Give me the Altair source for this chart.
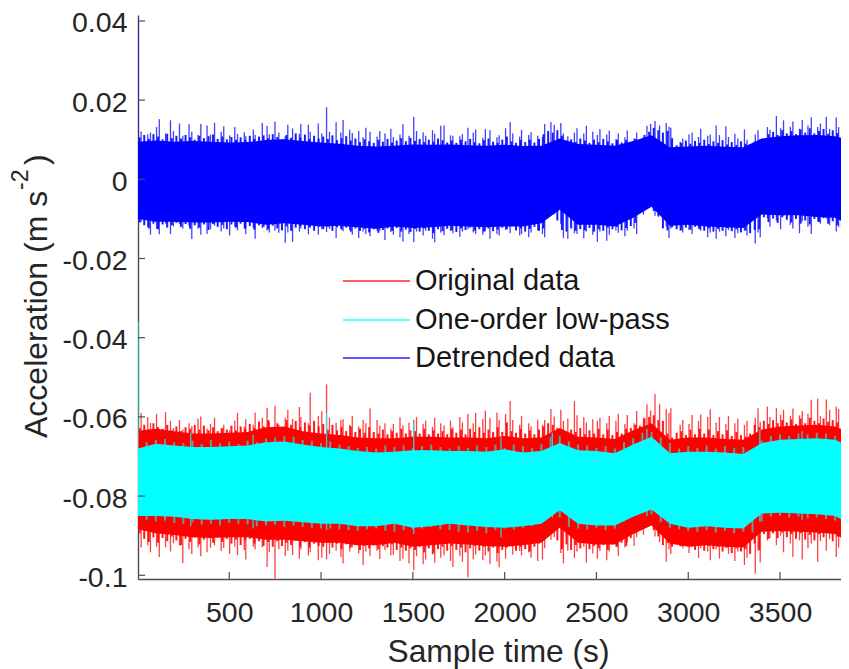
import altair as alt
import pandas as pd

spike_times = [3,
 20, 56, 71, 104, 119, 153, 180, 196, 229, 247, 281, 296, 330, 345, 379, 398, 420, 456, 470, 502,
 530, 545, 582, 590, 631, 641, 680, 706, 718, 749, 770, 805, 819, 845, 882, 890, 931, 941, 985, 1004,
 1030, 1046, 1082, 1108, 1120, 1156, 1170, 1205, 1229, 1244, 1267, 1305, 1320, 1348, 1380, 1394, 1430, 1446, 1479, 1505,
 1520, 1556, 1570, 1607, 1619, 1652, 1670, 1705, 1718, 1756, 1770, 1800, 1829, 1842, 1881, 1895, 1920, 1958, 1970, 2005,
 2030, 2044, 2082, 2092, 2131, 2144, 2180, 2206, 2218, 2252, 2270, 2306, 2320, 2344, 2380, 2394, 2431, 2445, 2480, 2505,
 2519, 2556, 2570, 2606, 2619, 2655, 2668, 2705, 2719, 2756, 2775, 2795, 2819, 2844, 2880, 2895, 2905, 2956, 2970, 3004,
 3021, 3056, 3068, 3106, 3120, 3152, 3170, 3205, 3219, 3254, 3270, 3306, 3320, 3365, 3380, 3392, 3431, 3445, 3480, 3503,
 3519, 3556, 3570, 3606, 3621, 3652, 3670, 3705, 3720, 3752, 3770, 3806, 3819, 3843, 3875]

blue_top = [41.0,
 12.1, 11.4, 11.8, 13.2, 15.2, 11.6, 14.9, 12.2, 14.1, 11.0, 13.9, 12.0, 11.2, 14.0, 13.6, 11.3, 14.3, 12.0, 13.4, 11.1,
 13.2, 11.5, 11.9, 10.9, 12.6, 11.2, 14.2, 13.5, 11.4, 14.6, 11.8, 10.9, 13.8, 12.9, 11.5, 14.0, 13.8, 12.0, 14.1, 11.6,
 18.2, 12.0, 14.4, 11.8, 15.0, 12.5, 11.7, 12.2, 10.6, 13.0, 12.0, 10.8, 12.2, 11.6, 12.8, 10.7, 11.3, 13.9, 11.0, 15.8,
 12.2, 11.9, 11.0, 12.4, 11.5, 13.5, 13.6, 11.1, 11.0, 10.9, 11.4, 13.0, 11.8, 12.6, 10.5, 12.7, 12.4, 10.6, 11.1, 12.9,
 14.5, 11.6, 10.8, 12.5, 11.2, 11.9, 11.0, 10.7, 14.0, 14.5, 13.8, 14.2, 11.6, 10.9, 11.8, 12.9, 11.6, 13.5, 12.0, 11.2,
 12.7, 11.3, 12.3, 10.1, 11.6, 10.6, 12.3, 10.4, 11.8, 10.7, 13.5, 14.0, 14.7, 13.6, 14.2, 13.3, 13.0, 9.5, 10.3, 11.4,
 11.8, 10.7, 12.8, 11.0, 11.3, 13.6, 11.2, 13.4, 10.7, 11.5, 10.3, 12.6, 10.0, 11.3, 12.4, 10.2, 13.2, 12.5, 16.0, 12.9,
 14.9, 13.3, 14.6, 12.8, 15.0, 13.6, 15.7, 13.2, 14.1, 15.8, 12.7, 15.6, 13.2, 12.5, 11.6]

blue_bot = [-9.5,
 -10.8, -12.0, -14.0, -12.5, -13.9, -11.2, -13.8, -11.9, -11.3, -12.4, -11.7, -15.1, -12.5, -14.0, -13.8, -12.6, -11.7, -13.2, -12.4, -14.2,
 -12.0, -12.9, -12.4, -13.9, -12.2, -15.0, -12.3, -12.9, -13.4, -13.0, -13.5, -16.0, -13.4, -15.8, -13.2, -12.4, -13.9, -12.2, -14.0, -12.6,
 -13.3, -12.5, -14.8, -12.4, -13.1, -12.8, -14.0, -14.8, -13.2, -13.8, -14.4, -12.9, -13.0, -15.3, -13.3, -14.0, -14.6, -15.7, -13.8, -15.9,
 -13.2, -14.2, -13.0, -15.0, -15.9, -13.4, -14.1, -13.0, -13.6, -14.5, -13.2, -12.6, -13.4, -13.8, -14.0, -13.1, -15.0, -13.8, -14.2, -12.8,
 -13.6, -9.8, -14.2, -13.8, -14.6, -13.4, -12.9, -13.8, -14.6, -9.0, -8.8, -11.2, -14.8, -15.0, -13.6, -13.8, -14.9, -13.2, -14.0, -15.8,
 -13.2, -15.5, -14.0, -12.9, -13.5, -14.4, -13.0, -12.4, -13.8, -8.9, -7.0, -6.3, -9.2, -8.6, -11.9, -14.8, -12.4, -13.0, -13.4, -12.8,
 -13.8, -12.4, -13.0, -14.6, -13.4, -15.0, -13.2, -14.4, -12.8, -14.8, -13.6, -13.0, -14.2, -16.2, -13.4, -14.6, -9.8, -12.0, -10.4, -12.6,
 -9.2, -11.5, -12.4, -13.6, -10.6, -12.0, -13.8, -10.6, -11.2, -9.9, -11.6, -13.2, -12.0, -14.6, -13.0]

red_top = [-62.0,
 -59.0, -60.0, -61.5, -59.3, -63.0, -58.8, -61.0, -62.8, -60.8, -63.2, -61.6, -62.4, -60.4, -59.9, -63.0, -61.8, -60.2, -63.0, -62.0, -63.4,
 -60.9, -59.0, -62.4, -60.6, -62.0, -58.9, -60.2, -57.7, -61.2, -57.2, -62.0, -60.2, -58.2, -60.5, -57.5, -60.0, -61.6, -53.9, -59.8, -58.6,
 -51.8, -60.2, -61.5, -60.8, -60.6, -62.0, -59.8, -62.4, -60.8, -61.6, -57.9, -60.8, -62.2, -61.6, -63.0, -61.8, -60.1, -62.2, -61.5, -60.7,
 -60.0, -61.8, -60.9, -62.5, -60.2, -61.6, -62.2, -60.9, -62.6, -60.0, -61.4, -59.2, -61.6, -59.0, -60.5, -58.4, -60.2, -58.9, -60.7, -59.2,
 -56.0, -60.8, -62.0, -59.8, -61.6, -62.4, -60.7, -62.0, -60.8, -58.0, -59.9, -58.2, -61.0, -60.4, -56.0, -59.6, -60.1, -61.4, -60.6, -61.0,
 -60.2, -61.6, -59.8, -61.0, -59.2, -61.8, -59.5, -61.6, -58.5, -60.2, -56.8, -58.4, -54.2, -56.8, -58.0, -59.0, -57.8, -62.0, -60.8, -61.8,
 -59.5, -61.0, -59.4, -60.0, -58.1, -61.4, -60.0, -61.8, -59.8, -61.6, -60.4, -62.0, -61.0, -60.2, -57.8, -61.2, -57.4, -60.0, -57.8, -59.5,
 -58.2, -59.8, -57.9, -59.6, -58.5, -59.2, -55.7, -55.4, -59.8, -55.6, -58.2, -57.4, -58.0, -59.6, -60.8]

red_bot = [-88.0,
 -93.0, -92.5, -94.2, -92.8, -95.4, -92.9, -94.0, -91.9, -92.5, -96.9, -93.4, -94.6, -93.0, -95.2, -94.2, -93.0, -92.4, -93.9, -93.1, -94.6,
 -92.8, -94.9, -93.6, -96.0, -92.8, -93.4, -92.9, -97.9, -94.2, -100.8, -93.4, -95.2, -93.8, -94.9, -95.8, -93.4, -95.0, -94.2, -96.2, -95.6,
 -96.0, -94.6, -93.8, -95.4, -97.0, -94.0, -92.9, -94.5, -97.4, -94.0, -95.2, -93.8, -95.9, -93.6, -95.0, -94.8, -96.4, -95.8, -97.0, -98.7,
 -95.2, -97.2, -96.0, -94.8, -96.8, -95.6, -95.0, -96.4, -97.9, -95.2, -96.6, -100.5, -96.0, -94.8, -96.2, -95.0, -97.2, -96.5, -98.0, -95.8,
 -91.8, -94.8, -93.9, -95.0, -94.2, -95.6, -96.4, -96.0, -93.2, -91.0, -90.4, -94.4, -97.0, -93.8, -95.6, -94.0, -92.8, -96.8, -94.5, -95.8,
 -93.9, -96.2, -94.0, -92.8, -95.2, -93.0, -91.8, -92.6, -90.4, -89.8, -87.5, -87.2, -90.2, -91.6, -96.6, -93.4, -94.6, -92.8, -93.2, -94.4,
 -92.9, -95.6, -93.2, -94.0, -96.2, -93.4, -95.8, -93.2, -94.6, -96.4, -94.0, -97.4, -95.6, -99.6, -93.8, -96.8, -91.2, -90.6, -92.4, -90.0,
 -94.2, -92.0, -95.4, -91.2, -96.0, -93.2, -92.0, -96.6, -91.4, -93.8, -90.8, -95.4, -93.0, -92.6, -96.0]

# Dense, lower fringe between the tall spikes.
fringe_times = list(range(12, 3876, 25))

blue_fringe_top = [
 10.6, 11.2, 10.2, 11.4, 10.8, 10.1, 11.5, 10.4, 11.0, 10.3, 11.2, 10.6, 10.0, 11.0, 10.4, 10.9, 11.3, 10.2, 10.8, 10.1,
 10.7, 10.0, 10.6, 9.9, 11.0, 10.2, 10.8, 11.1, 10.4, 11.4, 10.7, 10.1, 11.2, 10.5, 11.6, 10.6, 11.3, 10.2, 11.0, 10.3,
 10.8, 10.2, 11.1, 9.9, 10.4, 10.9, 9.8, 10.3, 9.4, 10.1, 9.6, 9.2, 10.0, 9.5, 10.2, 9.3, 9.8, 10.4, 9.6, 10.5,
 9.7, 10.2, 9.4, 10.0, 9.5, 10.3, 9.9, 9.3, 9.8, 9.2, 10.0, 9.6, 10.2, 9.4, 9.1, 9.9, 10.3, 9.5, 9.2, 10.0,
 10.8, 9.6, 9.2, 9.9, 9.4, 10.0, 9.3, 10.2, 11.4, 12.2, 11.8, 12.4, 11.0, 9.7, 10.1, 9.4, 10.3, 9.8, 9.2, 10.0,
 9.4, 10.2, 9.6, 9.1, 10.0, 9.3, 9.9, 9.2, 10.2, 9.8, 11.2, 12.0, 13.0, 12.4, 11.8, 12.2, 10.4, 8.6, 9.2, 9.8,
 9.0, 9.7, 9.2, 10.0, 8.9, 9.6, 9.2, 9.9, 8.8, 9.4, 8.7, 9.6, 9.0, 8.9, 9.5, 9.0, 10.2, 11.4, 12.0, 11.2,
 12.4, 11.6, 12.2, 11.4, 12.6, 11.8, 12.9, 11.6, 12.2, 12.7, 11.5, 12.4, 11.7, 11.0, 10.4]

blue_fringe_bot = [
 -10.9, -11.6, -12.4, -11.2, -12.6, -11.4, -12.2, -11.6, -11.0, -12.0, -11.3, -12.5, -11.6, -12.2, -11.4, -12.8, -11.3, -12.0, -11.5, -12.6,
 -11.4, -12.2, -11.2, -12.4, -11.8, -12.7, -11.6, -12.0, -12.6, -11.7, -12.4, -12.9, -11.9, -13.0, -12.2, -11.8, -12.6, -12.1, -13.0, -12.0,
 -12.6, -12.0, -13.0, -12.1, -12.7, -12.2, -13.2, -12.4, -13.0, -12.5, -13.4, -12.6, -13.5, -12.8, -12.4, -13.0, -12.3, -13.2, -12.7, -13.3,
 -12.5, -13.2, -12.4, -13.0, -13.6, -12.6, -13.1, -12.5, -12.9, -13.3, -12.4, -12.8, -12.2, -13.0, -12.6, -13.2, -12.4, -13.1, -12.7, -12.2,
 -12.6, -9.2, -12.9, -12.4, -13.2, -12.5, -12.0, -13.0, -12.4, -8.4, -8.6, -10.4, -12.8, -13.2, -12.4, -13.0, -12.6, -12.9, -12.3, -13.2,
 -12.6, -13.0, -12.2, -12.6, -12.0, -12.9, -12.3, -11.8, -11.0, -8.2, -7.2, -6.9, -8.0, -9.4, -12.4, -12.9, -12.1, -12.6, -12.9, -12.2,
 -12.7, -12.0, -12.6, -13.0, -12.4, -13.2, -12.5, -13.0, -12.3, -13.1, -12.6, -13.4, -12.9, -13.6, -12.8, -12.6, -9.6, -10.8, -9.9, -11.0,
 -9.6, -10.2, -10.9, -10.0, -11.2, -10.4, -11.4, -10.0, -10.8, -9.8, -11.2, -10.6, -11.6, -12.4, -12.2]

red_fringe_top = [
 -62.8, -62.0, -63.2, -61.6, -62.6, -63.0, -62.0, -63.4, -62.4, -63.6, -62.6, -63.0, -62.0, -63.2, -62.2, -63.4, -62.6, -63.6, -62.8, -63.2,
 -62.2, -63.4, -62.4, -63.0, -61.8, -62.8, -61.2, -62.4, -60.8, -62.6, -61.6, -62.8, -60.8, -62.0, -61.0, -62.6, -61.4, -62.2, -61.0, -62.4,
 -61.8, -63.2, -62.0, -63.4, -62.6, -63.6, -62.4, -63.8, -63.0, -64.0, -62.6, -63.8, -64.2, -63.2, -64.4, -63.6, -64.0, -63.0, -64.2, -63.4,
 -63.6, -64.2, -63.0, -64.4, -63.4, -64.2, -63.6, -64.4, -63.0, -64.0, -63.2, -64.4, -63.0, -63.8, -62.6, -64.0, -63.2, -63.8, -62.6, -63.8,
 -61.4, -63.6, -64.0, -63.0, -64.2, -63.4, -64.4, -63.2, -62.4, -61.6, -62.0, -62.8, -63.6, -64.0, -63.2, -63.8, -62.8, -64.4, -63.4, -64.2,
 -63.0, -64.4, -63.2, -64.6, -63.8, -64.2, -63.0, -62.8, -62.0, -62.2, -60.4, -60.0, -59.6, -60.8, -61.0, -64.2, -65.2, -64.0, -63.6, -64.6,
 -63.2, -64.4, -63.0, -64.2, -63.2, -64.6, -63.6, -64.4, -63.4, -64.8, -63.8, -64.6, -65.0, -64.2, -62.0, -62.6, -61.0, -61.8, -60.8, -61.6,
 -60.8, -61.4, -60.6, -61.8, -60.4, -61.6, -60.2, -61.0, -61.6, -60.4, -61.2, -60.8, -61.4, -62.4, -63.2]

red_fringe_bot = [
 -89.4, -90.8, -91.6, -90.4, -91.8, -90.6, -91.4, -90.2, -91.2, -92.4, -90.8, -91.6, -90.4, -92.2, -91.0, -90.6, -91.8, -90.4, -91.6, -90.8,
 -92.0, -91.0, -92.4, -91.2, -90.8, -92.0, -91.4, -92.6, -91.6, -92.8, -91.4, -92.6, -91.8, -92.4, -91.2, -92.8, -91.6, -93.0, -92.0, -92.6,
 -92.8, -91.8, -93.0, -92.0, -93.4, -92.2, -93.0, -92.4, -93.6, -92.6, -93.2, -92.4, -93.4, -92.6, -93.0, -92.2, -93.6, -93.0, -93.8, -93.2,
 -93.6, -92.8, -94.2, -93.2, -94.4, -93.4, -92.8, -93.8, -92.6, -93.6, -93.0, -94.2, -93.2, -92.6, -93.8, -92.8, -94.0, -93.0, -94.4, -93.6,
 -93.0, -92.2, -93.8, -92.8, -93.4, -94.0, -92.8, -92.0, -90.2, -88.4, -88.8, -91.2, -93.4, -92.2, -93.6, -92.4, -93.2, -91.8, -93.4, -92.6,
 -93.2, -92.4, -93.6, -92.2, -92.8, -91.8, -92.6, -90.6, -89.4, -88.4, -87.4, -86.8, -88.6, -90.2, -92.4, -91.8, -92.8, -91.8, -92.6, -91.8,
 -92.6, -93.6, -92.4, -93.8, -92.6, -93.4, -92.8, -94.0, -93.0, -94.4, -93.2, -94.0, -93.4, -94.6, -92.0, -93.6, -89.6, -90.8, -89.4, -90.6,
 -89.2, -90.4, -89.6, -90.8, -89.4, -91.0, -89.8, -91.2, -89.6, -90.4, -89.2, -91.4, -90.2, -92.0, -92.8]

cyan_fringe_times = list(range(50, 3851, 50))
cyan_fringe_top = [
 -66.4, -65.8, -65.6, -66.4, -66.6, -66.0, -66.8, -65.8, -66.6, -66.2,
 -66.8, -66.0, -66.4, -65.4, -65.2, -64.8, -65.0, -65.8, -66.0, -66.6,
 -66.2, -67.0, -67.4, -67.8, -67.6, -68.0, -67.2, -67.6, -67.2, -67.8,
 -67.4, -67.0, -67.6, -68.0, -67.4, -67.8, -67.2, -67.6, -67.0, -67.8,
 -67.0, -67.4, -67.8, -66.8, -65.0, -64.8, -66.2, -67.0, -67.2, -67.8,
 -67.4, -68.0, -66.4, -65.4, -64.0, -63.8, -65.2, -66.6, -68.0, -67.4,
 -67.8, -67.2, -68.0, -67.4, -67.8, -67.6, -68.2, -66.0, -64.8, -64.4,
 -64.8, -64.2, -64.4, -64.0, -64.2, -64.8, -65.0]
cyan_fringe_bot = [
 -86.0, -86.4, -86.2, -86.8, -87.0, -86.6, -87.2, -87.0, -87.4, -86.8,
 -87.0, -87.2, -87.6, -87.4, -87.2, -87.8, -87.4, -87.8, -88.0, -88.2,
 -88.2, -88.4, -88.6, -88.8, -88.4, -88.2, -88.8, -89.0, -88.6, -88.4,
 -88.2, -87.8, -88.4, -88.6, -89.0, -89.2, -88.8, -89.4, -88.6, -88.2,
 -88.4, -88.0, -87.6, -85.6, -84.4, -85.4, -87.8, -88.2, -88.4, -88.0,
 -88.6, -88.2, -86.4, -85.0, -84.2, -84.6, -86.6, -88.0, -88.4, -88.8,
 -89.0, -88.6, -89.2, -88.8, -89.4, -89.0, -89.2, -86.4, -85.2, -85.0,
 -85.4, -85.2, -85.6, -85.4, -85.8, -86.2, -86.6]

core_times = [3] + list(range(100, 3801, 100)) + [3876]

blue_core_top = [9.5, 9.8, 9.5, 9.7, 9.5, 9.3, 9.4, 9.9, 10.1, 9.7, 9.3, 9.0, 8.5, 8.3, 8.5, 8.8, 8.7, 8.8, 8.6, 8.5,
 8.7, 8.4, 8.5, 10.3, 8.9, 8.7, 8.5, 9.7, 11.1, 8.1, 8.3, 8.5, 8.2, 8.1, 10.3, 10.9, 11.1, 11.2, 10.9, 9.9]
blue_core_bot = [-10.0, -10.7, -10.7, -10.9, -10.9, -10.7, -10.8, -11.5, -11.1, -11.5, -11.9, -11.7, -12.1, -12.5, -11.9, -12.3, -12.1, -11.7, -11.9, -12.1,
 -11.9, -11.9, -11.1, -7.7, -11.5, -11.5, -11.9, -9.7, -6.9, -11.7, -11.5, -11.9, -12.1, -12.3, -8.9, -9.1, -9.1, -9.5, -9.7, -11.5]

cyan_core_top = [-68.0, -66.8, -67.2, -67.6, -67.6, -67.4, -67.2, -66.4, -66.2, -67.0, -67.6, -68.0, -68.6, -69.0, -68.8, -68.4, -68.4, -68.6, -68.6, -68.8,
 -68.2, -69.0, -68.6, -66.6, -68.4, -68.6, -69.2, -67.0, -65.0, -69.2, -68.8, -68.8, -69.0, -69.4, -66.6, -65.8, -65.6, -65.4, -65.8, -67.4]
cyan_core_bot = [-85.0, -85.0, -85.2, -85.8, -86.0, -85.8, -85.8, -86.4, -86.2, -86.6, -87.0, -87.0, -87.6, -87.6, -87.0, -88.0, -87.6, -87.0, -87.4, -87.8,
 -88.0, -87.6, -87.0, -83.6, -87.0, -87.4, -87.4, -85.2, -83.4, -87.0, -88.0, -87.6, -88.0, -88.2, -84.4, -84.2, -84.4, -84.6, -85.0, -87.0]

red_core_top = [-63.5, -63.0, -63.6, -64.2, -64.2, -64.0, -63.8, -62.6, -62.4, -63.6, -64.2, -64.6, -65.2, -65.4, -65.4, -65.0, -65.0, -65.2, -65.2, -65.4,
 -64.8, -65.4, -65.2, -62.8, -65.0, -65.2, -65.6, -63.4, -61.6, -65.8, -65.2, -65.2, -65.6, -65.8, -63.2, -62.4, -62.2, -62.0, -62.4, -64.0]
red_core_bot = [-88.4, -89.4, -89.8, -90.4, -90.6, -90.4, -90.4, -91.0, -91.0, -91.4, -91.8, -91.8, -92.4, -92.4, -91.8, -92.8, -92.4, -92.0, -92.2, -92.6,
 -92.8, -92.4, -91.8, -88.0, -91.8, -92.2, -92.2, -89.6, -87.4, -92.0, -92.8, -92.4, -92.8, -93.0, -89.0, -88.8, -89.0, -89.2, -89.6, -91.8]

cyan_peak_times = [3, 290, 630, 1030, 1505, 1980, 2260, 2775, 3390, 3620]
cyan_peak_top = [-36.0, -64.0, -64.6, -59.0, -61.5, -65.2, -64.0, -63.0, -63.4, -63.6]
cyan_peak_bot = [-85.0, -87.6, -88.2, -88.6, -89.6, -90.4, -85.4, -85.0, -86.4, -86.0]

series_names = ["Original data", "One-order low-pass", "Detrended data"]
series_colors = ["#ff0000", "#00ffff", "#0000ff"]
x_ticks = [500, 1000, 1500, 2000, 2500, 3000, 3500]
y_ticks = [0.04, 0.02, 0, -0.02, -0.04, -0.06, -0.08, -0.1]
y_title_main = ["Acceleration (m s"]
y_title_power = ["-2"]
y_title_close = [")"]
legend_rows = [266, 305, 343]

X_DOMAIN = [3, 3832]
Y_DOMAIN = [-0.10094, 0.0415]
INK = "#262626"
AXIS = "#4d4d4d"
FONT = "Liberation Sans"
PLOT_W = 703
PLOT_H = 564


def frame(name, times, top, bot):
    return pd.DataFrame({"series": name, "t": times,
                         "top": [v / 1000 for v in top],
                         "bot": [v / 1000 for v in bot]})


x_scale = alt.Scale(domain=X_DOMAIN, nice=False, zero=False)
y_scale = alt.Scale(domain=Y_DOMAIN, nice=False, zero=False)
color_scale = alt.Scale(domain=series_names, range=series_colors)
x_enc = alt.X("t:Q", scale=x_scale, title="Sample time (s)",
              axis=alt.Axis(values=x_ticks, tickSize=0, grid=False, labelPadding=19, titlePadding=10, format="d",
                            titleX=360, labelFontSize=28.5, titleFontSize=31.7, labelFont=FONT, titleFont=FONT,
                            titleFontWeight="normal", labelColor=INK, titleColor=INK, domainColor=AXIS, domainWidth=1.4,
                            labelFlush=False, labelOverlap=False))
y_enc = alt.Y("top:Q", scale=y_scale, title=None,
              axis=alt.Axis(values=y_ticks, tickSize=0, grid=False, labelPadding=11, labelOffset=2,
                            labelFontSize=28.5, labelFont=FONT,
                            labelColor=INK, domainColor=AXIS, domainWidth=1.4,
                            labelExpr="datum.value + ''", labelOverlap=False))


def band(times, top, bot, color):
    data = frame("band", times, top, bot)
    return alt.Chart(data).mark_area(color=color, opacity=1, clip=True).encode(x=x_enc, y=y_enc, y2="bot:Q")


def spikes(name, times, top, bot, width, opacity):
    data = frame(name, times, top, bot)
    color = alt.Color("series:N", scale=color_scale, legend=None, sort=series_names)
    return alt.Chart(data).mark_rule(strokeWidth=width, opacity=opacity, clip=True).encode(
        x=x_enc, y=y_enc, y2="bot:Q", color=color)


def title_part(parts, size, x, y):
    return alt.Chart(pd.DataFrame({"label": parts})).mark_text(
        angle=270, align="left", baseline="middle", fontSize=size, font=FONT, color=INK
    ).encode(text="label:N", x=alt.value(x), y=alt.value(y))


x_tick_marks = alt.Chart(pd.DataFrame({"t": x_ticks})).mark_rule(color=AXIS, strokeWidth=1.2).encode(
    x=alt.X("t:Q", scale=x_scale), y=alt.value(PLOT_H), y2=alt.value(PLOT_H - 7))
y_tick_marks = alt.Chart(pd.DataFrame({"top": y_ticks})).mark_rule(color=AXIS, strokeWidth=1.2).encode(
    y=alt.Y("top:Q", scale=y_scale), x=alt.value(0), x2=alt.value(7))

legend_data = pd.DataFrame({"series": series_names, "row": legend_rows})
legend_lines = alt.Chart(legend_data).mark_rule(strokeWidth=1.5, opacity=0.85).encode(
    x=alt.value(205), x2=alt.value(272),
    y=alt.Y("row:Q", scale=None),
    color=alt.Color("series:N", scale=color_scale, legend=None, sort=series_names))
legend_text = alt.Chart(legend_data).mark_text(
    align="left", baseline="middle", fontSize=29, font=FONT, color="#161616"
).encode(x=alt.value(277), y=alt.Y("row:Q", scale=None), text="series:N")

chart = alt.layer(
    spikes("Original data", spike_times, red_top, red_bot, 1.3, 0.75),
    spikes("Original data", fringe_times, red_fringe_top, red_fringe_bot, 2.0, 0.9),
    band(core_times, red_core_top, red_core_bot, "#ff0000"),
    spikes("One-order low-pass", cyan_peak_times, cyan_peak_top, cyan_peak_bot, 1.3, 0.8),
    spikes("One-order low-pass", cyan_fringe_times, cyan_fringe_top, cyan_fringe_bot, 2.0, 0.6),
    band(core_times, cyan_core_top, cyan_core_bot, "#00ffff"),
    spikes("Detrended data", spike_times, blue_top, blue_bot, 1.3, 0.75),
    spikes("Detrended data", fringe_times, blue_fringe_top, blue_fringe_bot, 2.0, 0.9),
    band(core_times, blue_core_top, blue_core_bot, "#0000ff"),
    x_tick_marks,
    y_tick_marks,
    legend_lines,
    legend_text,
    title_part(y_title_main, 32, -101, 423),
    title_part(y_title_power, 23, -117, 175),
    title_part(y_title_close, 32, -101, 150),
).resolve_scale(color="shared").properties(
    width=PLOT_W, height=PLOT_H,
    padding={"left": 130, "top": 7, "right": 0, "bottom": 90},
    autosize=alt.AutoSizeParams(type="none"),
    background="white",
).configure_view(stroke=None)

chart.save("out.html", embed_options={"renderer": "svg", "actions": False})
